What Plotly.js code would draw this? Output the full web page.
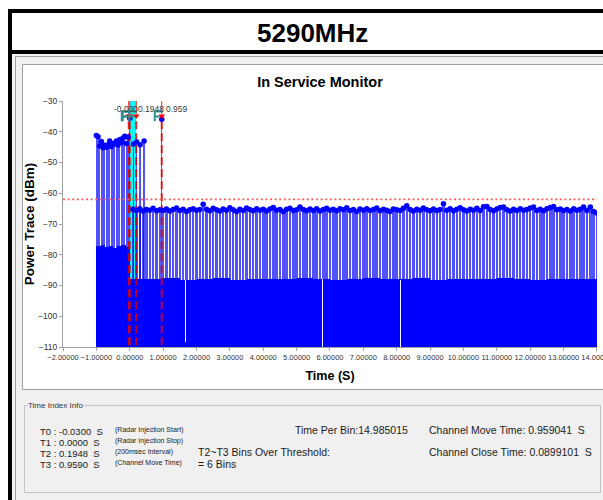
<!DOCTYPE html>
<html><head><meta charset="utf-8">
<script src="https://cdn.plot.ly/plotly-3.0.1.min.js"></script>
<style>html,body{margin:0;padding:0;background:#fff;overflow:hidden}#chart{width:603px;height:500px}</style>
</head><body><div id="chart"></div>
<script>
// ---------------- data ----------------
const pageTitle = '5290MHz';
const chartTitle = 'In Service Monitor';
const xTitle = 'Time (S)';
const yTitle = 'Power Trace (dBm)';
const xRange = [-2, 14.0005];
const yRange = [-110, -30];
const thresholdDbm = -62;

// peak (max-hold) values per bin, before injection: bins start -1.00 s, 0.05 s apart
const preStart = -1.00, preStep = 0.05;
const prePeaks = [-41.2,-41.6,-44.6,-43.2,-45.2,-44.4,-45.0,-44.2,-43.0,-44.8,
                  -43.8,-44.0,-43.0,-44.3,-42.5,-43.5,-42.0,-41.5,-43.8,-41.8];
// peak values after injection: bins start 0.1 s, 0.1 s apart
const postStart = 0.1, postStep = 0.1;
const postPeaks = [
 -65.2,-65.6,-65.0,-65.8,-65.3,-65.5,-64.9,-65.7,-65.4,-65.6,
 -65.1,-65.8,-65.3,-64.8,-65.6,-65.2,-65.9,-65.4,-65.0,-65.5,
 -65.3,-63.6,-65.2,-65.7,-64.9,-65.4,-65.8,-65.1,-65.5,-64.7,
 -65.4,-65.9,-65.2,-65.6,-64.8,-65.3,-65.7,-65.0,-65.5,-65.2,
 -65.8,-65.1,-64.6,-65.5,-65.3,-65.9,-65.2,-64.9,-65.6,-65.4,
 -64.5,-65.3,-65.7,-65.1,-65.6,-65.0,-65.8,-65.3,-64.9,-65.5,
 -65.2,-65.7,-65.0,-65.4,-64.7,-65.6,-65.3,-65.9,-65.1,-65.5,
 -65.0,-65.6,-65.3,-64.8,-65.7,-65.2,-65.5,-65.9,-65.1,-65.4,
 -65.6,-64.9,-64.1,-65.3,-65.8,-65.2,-65.5,-64.8,-65.4,-65.7,
 -65.1,-65.6,-65.3,-63.4,-65.5,-65.0,-65.7,-65.2,-64.7,-65.4,
 -65.8,-65.2,-65.5,-64.9,-65.6,-64.4,-64.3,-65.3,-65.7,-65.1,
 -64.6,-64.5,-65.4,-65.8,-65.2,-65.6,-65.0,-65.5,-65.3,-64.8,
 -64.5,-65.6,-65.2,-65.7,-65.0,-64.6,-64.3,-65.4,-65.1,-65.6,
 -65.3,-65.8,-65.0,-65.5,-65.2,-64.5,-65.6,-64.5,-65.9,-66.4];
// burst bins around the radar injection
const eventTimes = [0.0, 0.11, 0.21, 0.31, 0.43, 0.959];
const eventPeaks = [-35.6, -44.0, -43.3, -44.2, -43.0, -35.9];

// average level (solid part) per block
const darkPreStart = -1.0, darkPreStep = 0.125;
const darkPre = [-77.2,-76.8,-77.6,-77.0,-77.8,-77.3,-76.9,-77.4];
const darkPostStart = 0.0, darkPostStep = 0.5;
const darkPost = [-87.8,-88.0,-87.6,-88.1,-87.9,-87.7,-88.2,-87.8,-87.9,-88.0,
                  -87.6,-87.9,-88.1,-87.8,-87.7,-88.0,-87.9,-87.6,-88.1,-87.8,
                  -87.9,-88.0,-87.7,-87.9,-88.2,-87.8,-87.9,-88.0];
// dropout bins in the average trace
const dropTimes = [1.66, 5.79, 8.12];
const dropTops = [-88.2, -88.0, -88.1];
const dropBottoms = [-108.3, -110, -110];
// minimum points just below the floor
const minTimes = [1.47, 7.52, 10.47];
const minVals = [-110.4, -110.4, -110.4];

// time index markers
const tNames = ['T0','T1','T2','T3'];
const tValues = [-0.0300, 0.0000, 0.1948, 0.9590];
const tLabels = ['-0.03','0','0.1948','0.959'];
const tNotes = ['(Radar Injection Start)','(Radar Injection Stop)','(200msec Interval)','(Channel Move Time)'];
const timePerBin = '14.985015';
const binsOverThreshold = 6;
const channelMoveTime = '0.959041';
const channelCloseTime = '0.0899101';

// ---------------- build ----------------
const SANS = "'Liberation Sans',Arial,sans-serif";
const BASE = yRange[0];
const bins = (s, st, n) => Array.from({length:n}, (_, i) => +(s + i*st).toFixed(4));

const preTimes = bins(preStart, preStep, prePeaks.length);
const postTimes = bins(postStart, postStep, postPeaks.length);
const allTimes = preTimes.concat(postTimes, eventTimes);
const allPeaks = prePeaks.concat(postPeaks, eventPeaks);
const stemW = preTimes.map(()=>0.037).concat(postTimes.map(()=>0.075), eventTimes.map(()=>0.04));

const darkT = bins(darkPreStart + darkPreStep/2, darkPreStep, darkPre.length)
  .concat(bins(darkPostStart + darkPostStep/2, darkPostStep, darkPost.length));
const darkV = darkPre.concat(darkPost);
const darkW = darkPre.map(()=>darkPreStep).concat(darkPost.map(()=>darkPostStep));

const dashX = [], dashY = [], topX = [], topY = [];
tValues.forEach(t => { dashX.push(t, t, null); dashY.push(-36.6, BASE, null);
                       topX.push(t, t, null); topY.push(yRange[1], -34.4, null); });

const traces = [
  {type:'bar', x: allTimes, y: allPeaks.map(v => v - BASE), base: BASE, width: stemW,
   marker:{color:'rgba(0,0,255,0.68)', line:{width:0}}, hoverinfo:'skip'},
  {type:'bar', x: darkT, y: darkV.map(v => v - BASE), base: BASE, width: darkW,
   marker:{color:'#0000ff', line:{width:0}}, hoverinfo:'skip'},
  {type:'bar', x: dropTimes, y: dropTops.map((v,i) => v - dropBottoms[i]), base: dropBottoms, width: 0.03,
   marker:{color:'#f4f4ff', line:{width:0}}, hoverinfo:'skip'},
  {type:'scatter', mode:'lines', x: dashX, y: dashY,
   line:{color:'rgba(225,0,0,0.82)', width:2, dash:'8px,4px'}, hoverinfo:'skip'},
  {type:'scatter', mode:'markers', x: allTimes, y: allPeaks,
   marker:{color:'#0000ff', size:5.5}, hoverinfo:'skip'},
  {type:'scatter', mode:'markers', x: minTimes, y: minVals, cliponaxis:false,
   marker:{color:'#0000ff', size:4}, hoverinfo:'skip'},
  {type:'scatter', mode:'lines', x: topX, y: topY, line:{color:'#ff2020', width:1}, hoverinfo:'skip'},
  {type:'scatter', mode:'markers', x: tValues, y: tValues.map(()=>-34.9),
   marker:{symbol:'triangle-down', color:'#ff0000', size:6}, hoverinfo:'skip'},
  {type:'scatter', mode:'lines', x: [xRange[0], 14], y: [thresholdDbm, thresholdDbm],
   line:{color:'#ff5a5a', width:1.6, dash:'2px,2.6px'}, hoverinfo:'skip'}
];

// pixel -> paper helpers
const L = 63, R = 597, T = 101, B = 347;
const PX = p => (p - L) / (R - L);
const PY = p => (B - p) / (B - T);
const rect = (x0,y0,x1,y1,fill,line,lw) => ({type:'rect', xref:'paper', yref:'paper', layer:'below',
  x0:PX(x0), x1:PX(x1), y0:PY(y1), y1:PY(y0), fillcolor:fill, line:{color:line||'rgba(0,0,0,0)', width:lw||0}});
const hline = (x0,x1,y,c,w) => ({type:'line', xref:'paper', yref:'paper', layer:'below',
  x0:PX(x0), x1:PX(x1), y0:PY(y), y1:PY(y), line:{color:c, width:w}});
const vline = (x,y0,y1,c,w) => ({type:'line', xref:'paper', yref:'paper', layer:'below',
  x0:PX(x), x1:PX(x), y0:PY(y0), y1:PY(y1), line:{color:c, width:w}});

const shapes = [
  rect(12, 54, 610, 505, '#f0f0f0'),
  vline(15.5, 56, 505, '#a0a0a0', 1),
  hline(15, 610, 56.5, '#a0a0a0', 1),
  rect(22.5, 64.5, 610, 389.5, '#ffffff', '#a0a0a0', 1),
  rect(24.5, 405.5, 600.5, 492.5, 'rgba(0,0,0,0)', '#c4c4c4', 1),
  rect(8, 9, 12, 505, '#000000'),
  rect(8, 9, 610, 13, '#000000'),
  rect(8, 50, 610, 54, '#000000'),
  {type:'rect', xref:'x', yref:'y', layer:'below', x0:tValues[1], x1:tValues[2],
   y0:yRange[0], y1:yRange[1], fillcolor:'#00ffff', line:{width:0}}
];
tValues.forEach(t => {
  shapes.push({type:'path', xref:'x', yref:'y', layer:'above',
    path:`M${t-0.21},${-36.6} L${t-0.21},${-33.4} L${t+0.03},${-33.4} M${t-0.21},${-35.0} L${t-0.06},${-35.0}`,
    line:{color:'#2e9090', width:2}});
});

const ann = [];
const A = (text, px, py, size, o) => ann.push(Object.assign({text, xref:'paper', yref:'paper',
  x:PX(px), y:PY(py), xanchor:'left', yanchor:'middle', showarrow:false,
  font:{family:SANS, size, color:'#1a1a1a'}}, o||{}));

A('<b>'+pageTitle+'</b>', 312, 33, 26, {xanchor:'center', font:{family:SANS, size:26, color:'#000'}});
A('Time Index Info', 27, 405, 8, {bgcolor:'#f0f0f0', borderpad:0, font:{family:SANS, size:8, color:'#333'}});
const rowY = [431, 442, 453, 464];
tNames.forEach((n, i) => {
  const v = tValues[i].toFixed(4);
  A(n + ' : ' + v + '\u00a0\u00a0S', 38, rowY[i], 9.5);
  A(tNotes[i], 113, rowY[i] - 1, 7);
});
A('Time Per Bin:' + timePerBin, 292.5, 429.5, 10.5);
A('T2~T3 Bins Over Threshold:', 196, 452.5, 10.5);
A('= ' + binsOverThreshold + ' Bins', 196, 464, 10.5);
A('Channel Move Time: ' + channelMoveTime + '\u00a0\u00a0S', 427, 429.5, 10.5);
A('Channel Close Time: ' + channelCloseTime + '\u00a0\u00a0S', 427, 451.5, 10.5);

const tShift = [-17, 1, 0, 2];
tLabels.forEach((lab, i) => ann.push({text:lab, xref:'x', yref:'y', x:tValues[i], y:-32.6,
  xanchor:'left', yanchor:'middle', xshift:tShift[i], showarrow:false,
  font:{family:SANS, size:8.5, color:'#3a3a3a'}}));

const layout = {
  width:603, height:500, margin:{l:L, r:603-R, t:T, b:500-B, pad:0},
  paper_bgcolor:'#ffffff', plot_bgcolor:'rgba(0,0,0,0)', showlegend:false,
  barmode:'overlay', bargap:0,
  title:{text:'<b>'+chartTitle+'</b>', xref:'container', yref:'container', x:320/603, xanchor:'center',
         y:1-82/500, yanchor:'middle', font:{family:SANS, size:14.5, color:'#000'}},
  xaxis:{range:xRange, tickmode:'linear', tick0:-2, dtick:1, tickformat:'.5f', tickangle:0,
         ticklabeloverflow:'allow',
         showline:true, linecolor:'#a0a0a0', linewidth:1, ticks:'outside', ticklen:3, tickcolor:'#a0a0a0',
         tickfont:{family:SANS, size:7.5, color:'#333'}, showgrid:false, zeroline:false, fixedrange:true,
         title:{text:'<b>'+xTitle+'</b>', font:{family:SANS, size:12.5, color:'#000'}, standoff:10}},
  yaxis:{range:yRange, tickmode:'linear', tick0:yRange[0], dtick:10,
         showline:true, linecolor:'#a0a0a0', linewidth:1, ticks:'outside', ticklen:3, tickcolor:'#a0a0a0',
         tickfont:{family:SANS, size:8.5, color:'#333'}, showgrid:false, zeroline:false, fixedrange:true,
         title:{text:'<b>'+yTitle+'</b>', font:{family:SANS, size:13.5, color:'#000'}, standoff:0}},
  shapes, annotations:ann
};
Plotly.newPlot('chart', traces, layout, {staticPlot:true, displayModeBar:false});
</script></body></html>
